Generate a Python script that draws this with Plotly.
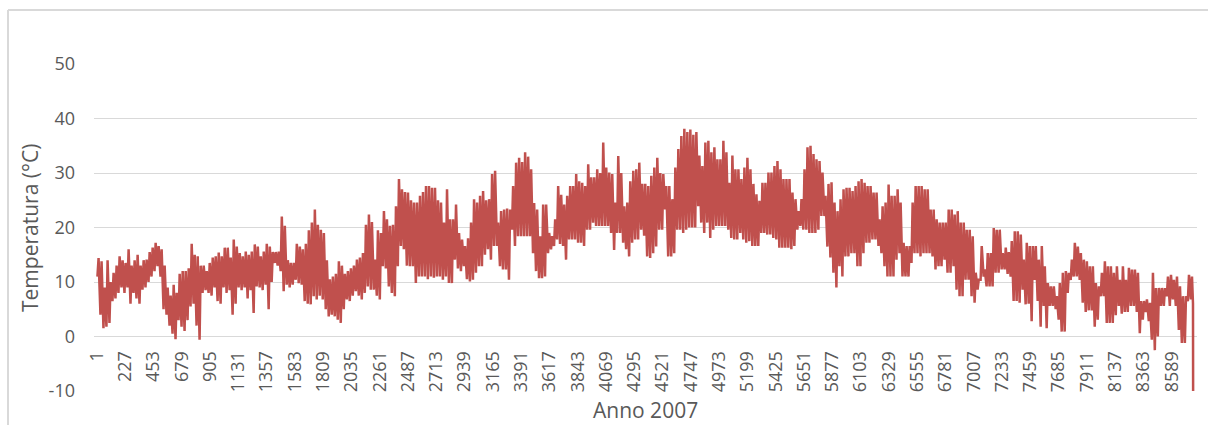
import plotly.graph_objects as go

# Daily maximum / minimum temperatures (°C), day 0 .. 364
daily_max = [
    14.4, 13.8, 9.0, 14.0, 10.0, 11.7, 13.0, 14.7, 14.0, 13.5,
    16.0, 13.0, 14.0, 15.0, 13.0, 14.0, 14.1, 15.5, 16.3, 17.2,
    16.6, 16.0, 13.0, 9.0, 7.5, 9.5, 8.0, 11.5, 12.0, 12.0,
    12.5, 17.0, 15.0, 14.7, 13.0, 13.0, 12.0, 13.5, 14.5, 14.7,
    15.4, 14.7, 16.3, 16.3, 14.5, 17.8, 16.5, 15.3, 14.7, 15.6,
    15.0, 15.6, 16.9, 16.5, 14.7, 15.6, 17.0, 16.5, 15.5, 15.5,
    15.6, 22.0, 20.3, 14.0, 13.5, 13.5, 17.0, 16.5, 16.0, 17.0,
    19.5, 20.9, 23.3, 20.5, 19.6, 19.0, 14.0, 10.5, 11.0, 11.5,
    13.8, 13.0, 11.5, 12.0, 12.5, 13.0, 14.1, 14.5, 15.3, 20.5,
    22.4, 21.0, 14.1, 19.5, 19.0, 23.0, 21.5, 20.3, 20.5, 23.9,
    28.9, 27.0, 26.5, 26.4, 25.0, 24.6, 24.6, 25.8, 26.5, 27.6,
    27.6, 27.3, 27.3, 25.0, 24.6, 20.9, 27.0, 21.5, 21.5, 24.2,
    19.0, 17.8, 16.6, 18.0, 20.9, 25.2, 24.6, 25.8, 26.7, 25.0,
    25.2, 29.8, 30.4, 20.9, 23.0, 23.3, 23.5, 23.3, 27.6, 31.9,
    32.8, 32.0, 33.8, 33.0, 30.7, 24.5, 23.3, 18.4, 24.2, 24.2,
    19.0, 18.4, 21.5, 27.6, 26.0, 24.2, 25.8, 27.6, 27.6, 29.8,
    28.5, 28.2, 27.6, 31.6, 29.2, 29.2, 30.7, 30.0, 35.6, 31.0,
    30.1, 29.8, 24.6, 33.1, 30.0, 23.9, 24.6, 28.5, 30.4, 30.7,
    31.9, 28.0, 28.0, 27.6, 29.5, 31.0, 32.8, 30.0, 29.8, 27.6,
    27.6, 25.2, 31.0, 34.4, 36.8, 38.1, 37.5, 38.0, 37.0, 37.5,
    33.2, 31.3, 35.6, 35.9, 33.8, 34.7, 32.5, 32.5, 35.9, 33.8,
    28.2, 33.2, 30.7, 30.7, 28.9, 31.0, 32.8, 30.7, 28.0, 26.1,
    24.9, 28.2, 28.2, 30.1, 30.1, 31.3, 32.2, 30.7, 28.9, 28.9,
    28.9, 26.4, 25.2, 23.0, 25.2, 30.7, 34.7, 35.0, 33.5, 32.5,
    32.2, 30.1, 25.8, 28.0, 28.3, 24.6, 23.0, 25.2, 27.0, 27.3,
    27.3, 26.7, 27.6, 28.5, 28.9, 28.2, 27.6, 27.6, 26.4, 26.4,
    21.5, 23.9, 24.6, 27.9, 25.8, 25.8, 27.0, 24.6, 17.2, 16.6,
    16.6, 24.6, 27.6, 27.6, 27.6, 27.0, 27.0, 23.3, 23.3, 21.5,
    20.9, 20.9, 20.9, 23.3, 23.3, 22.4, 23.0, 20.9, 20.9, 19.6,
    19.6, 18.4, 11.7, 10.4, 16.6, 12.3, 15.3, 15.3, 19.9, 19.6,
    19.6, 15.3, 16.3, 15.5, 17.5, 19.3, 19.3, 18.7, 14.1, 17.2,
    16.6, 16.6, 16.6, 14.1, 16.6, 12.9, 9.8, 9.2, 9.2, 7.4,
    9.8, 11.7, 12.0, 11.7, 14.1, 17.2, 16.5, 15.3, 14.1, 13.8,
    12.9, 12.9, 9.8, 9.2, 11.7, 13.8, 12.9, 12.9, 11.7, 12.9,
    10.4, 12.9, 10.4, 12.6, 12.3, 12.3, 11.7, 6.5, 6.5, 6.8,
    6.2, 11.7, 8.9, 8.9, 8.9, 8.9, 11.0, 11.3, 10.4, 11.0,
    9.2, 7.4, 7.4, 11.3, 11.0,
]

daily_min = [
    11.0, 4.0, 1.5, 1.8, 2.5, 6.5, 7.0, 8.0, 9.0, 8.0,
    9.0, 6.0, 8.0, 7.0, 6.0, 8.6, 9.0, 10.0, 11.0, 12.0,
    12.9, 11.0, 5.0, 4.0, 2.0, 0.5, -0.5, 3.0, 1.8, 1.0,
    3.0, 5.5, 6.0, 2.0, -0.6, 8.0, 8.5, 8.0, 7.5, 9.0,
    6.5, 6.0, 9.0, 8.0, 8.5, 4.0, 6.0, 9.0, 8.5, 9.0,
    7.0, 8.5, 4.3, 9.2, 9.0, 8.5, 9.5, 5.0, 10.0, 13.5,
    13.0, 12.0, 8.3, 9.5, 9.0, 9.5, 10.4, 9.8, 9.5, 6.5,
    6.0, 5.9, 7.4, 6.8, 7.5, 6.8, 5.0, 3.7, 4.0, 3.7,
    3.1, 2.5, 5.0, 6.8, 6.5, 7.5, 8.3, 7.5, 6.8, 8.0,
    9.2, 8.6, 8.6, 7.5, 6.8, 12.9, 12.5, 9.2, 8.0, 7.4,
    12.9, 16.6, 16.0, 13.0, 12.9, 12.9, 9.8, 11.0, 11.0, 11.0,
    10.5, 11.0, 10.8, 11.0, 11.0, 10.4, 11.0, 9.8, 9.8, 14.1,
    12.5, 12.0, 12.9, 10.5, 10.1, 10.4, 11.7, 12.9, 12.9, 15.0,
    16.0, 14.1, 16.6, 16.6, 12.9, 12.3, 12.3, 10.4, 19.6, 16.6,
    18.4, 18.4, 18.4, 18.4, 18.4, 15.3, 12.0, 10.7, 10.7, 11.0,
    15.3, 16.0, 16.6, 17.8, 17.0, 16.6, 14.1, 17.8, 17.8, 17.8,
    17.2, 17.2, 16.6, 19.6, 19.6, 20.9, 20.3, 20.3, 20.3, 20.3,
    20.3, 19.0, 15.9, 19.0, 19.0, 17.2, 16.0, 14.7, 17.2, 17.8,
    17.8, 19.6, 18.5, 14.7, 14.4, 15.3, 16.5, 19.6, 19.6, 23.3,
    14.7, 14.7, 15.3, 19.6, 19.6, 19.0, 19.6, 20.0, 20.0, 20.0,
    23.9, 20.9, 19.0, 20.9, 18.1, 19.6, 20.3, 20.3, 20.3, 20.3,
    19.6, 18.1, 17.8, 17.8, 19.0, 17.8, 17.2, 17.5, 16.6, 16.6,
    16.6, 19.0, 19.0, 18.7, 18.7, 18.1, 17.8, 16.3, 16.3, 16.3,
    16.3, 16.0, 16.6, 19.6, 20.3, 19.6, 19.6, 19.0, 19.0, 19.0,
    19.6, 22.1, 22.1, 16.5, 14.5, 11.7, 9.0, 12.9, 11.0, 14.7,
    14.7, 15.3, 15.3, 12.9, 12.9, 15.3, 17.2, 17.2, 17.8, 17.8,
    16.6, 15.3, 12.9, 11.0, 11.0, 11.0, 14.1, 15.3, 11.0, 11.0,
    11.0, 13.5, 15.3, 15.3, 14.7, 15.3, 15.3, 15.3, 14.7, 12.3,
    12.9, 12.9, 14.1, 11.7, 11.7, 12.9, 8.6, 7.4, 7.4, 10.4,
    10.4, 7.4, 6.2, 8.6, 10.4, 11.0, 9.2, 9.2, 9.2, 11.7,
    11.7, 12.3, 12.3, 11.5, 11.0, 6.5, 6.5, 6.2, 8.6, 5.9,
    6.0, 2.8, 10.4, 6.5, 1.8, 5.6, 1.5, 5.6, 5.6, 5.0,
    3.1, 0.9, 0.9, 8.0, 10.4, 11.0, 11.0, 10.4, 6.2, 4.5,
    4.8, 4.8, 1.8, 3.1, 7.4, 7.4, 2.5, 2.5, 2.5, 3.9,
    5.6, 4.2, 4.5, 4.5, 5.6, 5.6, 4.5, 0.6, 3.1, 4.5,
    2.8, -0.6, -2.5, 0.0, 5.6, 5.6, 7.4, 5.6, 6.8, 5.6,
    1.2, -1.2, -1.2, 6.5, 6.8,
]

last_day_close = 6.0        # value just before the final hour
final_hour_value = -10.0    # last reading (hour 8760)
n_hours = 8760
tick_hours = list(range(1, n_hours, 226))   # 1, 227, ..., 8589
y_ticks = [-10, 0, 10, 20, 30, 40, 50]

# hours of the day at which the minimum / maximum occur
MIN_HOUR, MAX_HOUR = 6, 15

xs, ys = [], []
for d, (lo, hi) in enumerate(zip(daily_min, daily_max)):
    xs += [24 * d + MIN_HOUR, 24 * d + MAX_HOUR]
    ys += [lo, hi]
xs += [n_hours - 1, n_hours]
ys += [last_day_close, final_hour_value]

FONT = "Open Sans"
TXT = "#595959"
GRID = "#D9D9D9"

fig = go.Figure()
fig.add_trace(go.Scatter(
    x=xs, y=ys, mode="lines",
    line=dict(color="#C0504D", width=2.5, simplify=False),
    hoverinfo="skip", showlegend=False,
))

W, H = 1208, 425
ML, MR, MT, MB = 94, 11, 64, 34
PW, PH = W - ML - MR, H - MT - MB


def px_x(p):
    return (p - ML) / PW


def px_y(p):
    return (H - MB - p) / PH


fig.update_layout(
    width=W, height=H,
    margin=dict(l=ML, r=MR, t=MT, b=MB, pad=0, autoexpand=False),
    paper_bgcolor="white", plot_bgcolor="white",
    font=dict(family=FONT, color=TXT),
    xaxis=dict(
        range=[-21.5, 8791],
        tickmode="array",
        tickvals=tick_hours,
        ticktext=[str(t) for t in tick_hours],
        tickangle=-90,
        tickfont=dict(size=18, color=TXT, family=FONT),
        showgrid=False, zeroline=False, showline=False, ticks="",
        anchor="free", position=10 / 60,
        ticklabelstandoff=10,
        automargin=False,
    ),
    yaxis=dict(
        range=[-10, 50],
        tickmode="array", tickvals=y_ticks,
        ticktext=[str(v) for v in y_ticks],
        tickfont=dict(size=18, color=TXT, family=FONT),
        showgrid=True, gridcolor=GRID, gridwidth=1,
        zeroline=False, showline=False, ticks="",
        ticklabelstandoff=18,
        automargin=False,
    ),
    annotations=[
        dict(text="Anno 2007", x=0.5, y=px_y(410), xref="paper", yref="paper",
             showarrow=False, xanchor="center", yanchor="middle",
             font=dict(size=21, color=TXT, family=FONT)),
        dict(text="Temperatura (°C)", x=px_x(30), y=px_y(228), xref="paper", yref="paper",
             showarrow=False, xanchor="center", yanchor="middle", textangle=-90,
             font=dict(size=21, color=TXT, family=FONT)),
    ],
    shapes=[
        dict(type="line", xref="paper", yref="paper",
             x0=px_x(8), x1=px_x(W + 5), y0=px_y(10), y1=px_y(10),
             line=dict(color=GRID, width=2)),
        dict(type="line", xref="paper", yref="paper",
             x0=px_x(8), x1=px_x(8), y0=px_y(10), y1=px_y(H + 5),
             line=dict(color=GRID, width=2)),
    ],
)

fig.write_html(
    "out.html",
    config={"displayModeBar": False},
    post_script="document.body.style.margin='0';document.body.style.overflow='hidden';",
)
